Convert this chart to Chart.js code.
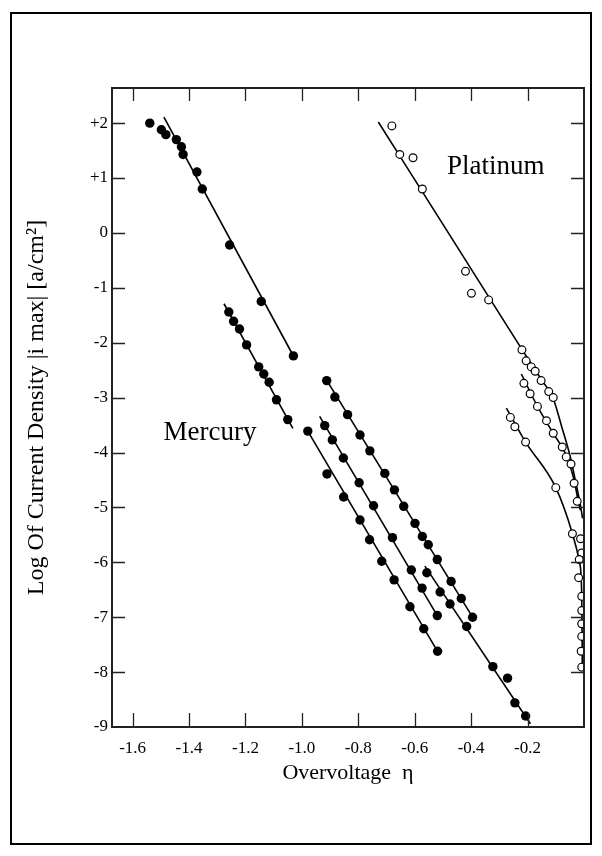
<!DOCTYPE html>
<html>
<head>
<meta charset="utf-8">
<script src="https://cdn.jsdelivr.net/npm/chart.js@4.4.1/dist/chart.umd.min.js"></script>
<style>
    html, body { margin: 0; padding: 0; background: #fff; }
    canvas { display: block; }
</style>
</head>
<body>
<canvas id="tafelChart" width="602" height="856"></canvas>
<script>
// Mercury runs: measured points (filled markers)
const hgRun1X = [-1.539, -1.498, -1.482, -1.445, -1.427, -1.421, -1.372, -1.353, -1.256, -1.144, -1.030];
const hgRun1Y = [2.00, 1.88, 1.79, 1.70, 1.57, 1.43, 1.11, 0.80, -0.22, -1.25, -2.24];
const hgRun2X = [-1.259, -1.242, -1.221, -1.196, -1.153, -1.135, -1.116, -1.090, -1.050];
const hgRun2Y = [-1.44, -1.61, -1.75, -2.04, -2.44, -2.57, -2.72, -3.04, -3.40];
const hgRun3X = [-0.979, -0.911, -0.852, -0.794, -0.760, -0.717, -0.673, -0.617, -0.568, -0.519];
const hgRun3Y = [-3.61, -4.39, -4.81, -5.23, -5.59, -5.98, -6.32, -6.81, -7.21, -7.62];
const hgRun4X = [-0.919, -0.892, -0.853, -0.797, -0.746, -0.679, -0.612, -0.574, -0.520];
const hgRun4Y = [-3.51, -3.77, -4.10, -4.55, -4.97, -5.55, -6.14, -6.47, -6.97];
const hgRun5X = [-0.912, -0.883, -0.838, -0.794, -0.759, -0.706, -0.672, -0.639, -0.599, -0.573, -0.552, -0.520, -0.471, -0.435, -0.395];
const hgRun5Y = [-2.69, -2.99, -3.31, -3.68, -3.97, -4.38, -4.68, -4.98, -5.29, -5.53, -5.68, -5.95, -6.35, -6.66, -7.00];
const hgRun6X = [-0.557, -0.510, -0.475, -0.416, -0.323, -0.271, -0.245, -0.207];
const hgRun6Y = [-6.19, -6.54, -6.76, -7.17, -7.90, -8.11, -8.56, -8.80];

// Mercury fitted Tafel lines (end points)
const hgFit1X = [-1.489, -1.028];
const hgFit1Y = [2.11, -2.26];
const hgFit2X = [-1.276, -1.032];
const hgFit2Y = [-1.29, -3.56];
const hgFit3X = [-0.979, -0.515];
const hgFit3Y = [-3.61, -7.66];
const hgFit4X = [-0.937, -0.517];
const hgFit4Y = [-3.34, -7.00];
const hgFit5X = [-0.915, -0.390];
const hgFit5Y = [-2.66, -7.04];
const hgFit6X = [-0.564, -0.190];
const hgFit6Y = [-6.07, -8.94];

// Platinum runs: measured points (open markers)
const ptRun1X = [-0.681, -0.653, -0.606, -0.573, -0.420, -0.399, -0.338, -0.220, -0.205, -0.187, -0.173, -0.152, -0.125, -0.109];
const ptRun1Y = [1.95, 1.43, 1.37, 0.80, -0.70, -1.10, -1.22, -2.13, -2.33, -2.44, -2.52, -2.69, -2.89, -3.00];
const ptRun2X = [-0.213, -0.191, -0.165, -0.133, -0.109, -0.077, -0.063, -0.046, -0.035, -0.024];
const ptRun2Y = [-2.74, -2.93, -3.16, -3.42, -3.65, -3.90, -4.08, -4.21, -4.56, -4.89];
const ptRun3X = [-0.261, -0.245, -0.207, -0.100, -0.041, -0.012, -0.008, -0.017, -0.019, -0.008, -0.008, -0.008, -0.008, -0.010, -0.008];
const ptRun3Y = [-3.36, -3.53, -3.81, -4.64, -5.48, -5.57, -5.83, -5.95, -6.28, -6.62, -6.88, -7.12, -7.35, -7.62, -7.91];

// Platinum curves through the runs
const ptCurve1X = [-0.729, -0.450, -0.220, -0.150, -0.109, -0.079, -0.049, -0.031, -0.014, -0.005];
const ptCurve1Y = [2.02, -0.25, -2.12, -2.68, -3.02, -3.53, -4.07, -4.50, -4.92, -5.20];
const ptCurve2X = [-0.222, -0.165, -0.109, -0.063, -0.035, -0.020, -0.013];
const ptCurve2Y = [-2.57, -3.16, -3.65, -4.05, -4.50, -4.90, -5.05];
const ptCurve3X = [-0.275, -0.207, -0.100, -0.041, -0.016, -0.008, -0.006];
const ptCurve3Y = [-3.19, -3.81, -4.64, -5.48, -6.00, -6.60, -7.95];

const xTicksStep = 0.2;
const yTicksStep = 1;

const runLabels = [
    { text: 'Platinum', x: -0.313, y: 1.08 },
    { text: 'Mercury', x: -1.326, y: -3.77 }
];

const SERIF = '"Liberation Serif", "Times New Roman", serif';

function toPoints(xs, ys) {
    return xs.map((x, i) => ({ x: x, y: ys[i] }));
}

function markerSet(xs, ys, hollow) {
    return {
        data: toPoints(xs, ys),
        showLine: false,
        pointRadius: hollow ? 3.9 : 4.7,
        pointBorderWidth: hollow ? 1.2 : 0,
        pointBackgroundColor: hollow ? '#fff' : '#000',
        pointBorderColor: '#000',
        order: 0
    };
}

function lineSet(xs, ys, curved) {
    return {
        data: toPoints(xs, ys),
        showLine: true,
        pointRadius: 0,
        borderColor: '#000',
        borderWidth: 1.6,
        cubicInterpolationMode: curved ? 'monotone' : 'default',
        tension: 0,
        order: 1
    };
}

const datasets = [
    markerSet(hgRun1X, hgRun1Y, false),
    markerSet(hgRun2X, hgRun2Y, false),
    markerSet(hgRun3X, hgRun3Y, false),
    markerSet(hgRun4X, hgRun4Y, false),
    markerSet(hgRun5X, hgRun5Y, false),
    markerSet(hgRun6X, hgRun6Y, false),
    markerSet(ptRun1X, ptRun1Y, true),
    markerSet(ptRun2X, ptRun2Y, true),
    markerSet(ptRun3X, ptRun3Y, true),
    lineSet(hgFit1X, hgFit1Y, false),
    lineSet(hgFit2X, hgFit2Y, false),
    lineSet(hgFit3X, hgFit3Y, false),
    lineSet(hgFit4X, hgFit4Y, false),
    lineSet(hgFit5X, hgFit5Y, false),
    lineSet(hgFit6X, hgFit6Y, false),
    lineSet(ptCurve1X, ptCurve1Y, true),
    lineSet(ptCurve2X, ptCurve2Y, true),
    lineSet(ptCurve3X, ptCurve3Y, true)
];

// page frame, plot box, inward ticks and run labels
const framePlugin = {
    id: 'frame',
    beforeDraw(chart) {
        const ctx = chart.ctx;
        ctx.save();
        ctx.fillStyle = '#fff';
        ctx.fillRect(0, 0, chart.width, chart.height);
        ctx.strokeStyle = '#000';
        ctx.lineWidth = 2;
        ctx.strokeRect(11, 13, 580, 831);
        ctx.restore();
    },
    afterDraw(chart) {
        const { ctx, chartArea: area } = chart;
        const xs = chart.scales.x;
        const ys = chart.scales.y;
        ctx.save();
        ctx.strokeStyle = '#222';
        ctx.lineWidth = 1.3;
        ctx.beginPath();
        xs.ticks.forEach(t => {
            const px = Math.round(xs.getPixelForValue(t.value)) + 0.5;
            if (px <= area.left + 2 || px >= area.right - 2) return;
            ctx.moveTo(px, area.bottom);
            ctx.lineTo(px, area.bottom - 14);
            ctx.moveTo(px, area.top);
            ctx.lineTo(px, area.top + 13);
        });
        ys.ticks.forEach(t => {
            const py = Math.round(ys.getPixelForValue(t.value)) + 0.5;
            if (py >= area.bottom - 2 || py <= area.top + 2) return;
            ctx.moveTo(area.left, py);
            ctx.lineTo(area.left + 13, py);
            ctx.moveTo(area.right, py);
            ctx.lineTo(area.right - 13, py);
        });
        ctx.stroke();

        ctx.lineWidth = 2;
        ctx.strokeRect(area.left, area.top, area.right - area.left, area.bottom - area.top);

        ctx.fillStyle = '#000';
        ctx.font = '27px ' + SERIF;
        ctx.textAlign = 'center';
        ctx.textBaseline = 'alphabetic';
        runLabels.forEach(l => {
            ctx.fillText(l.text, xs.getPixelForValue(l.x), ys.getPixelForValue(l.y));
        });
        ctx.restore();
    }
};

new Chart(document.getElementById('tafelChart'), {
    type: 'scatter',
    data: { datasets: datasets },
    plugins: [framePlugin],
    options: {
        responsive: false,
        animation: false,
        layout: { padding: { top: 88, right: 18, left: 0, bottom: 0 } },
        plugins: {
            legend: { display: false },
            tooltip: { enabled: false }
        },
        scales: {
            x: {
                type: 'linear',
                min: -1.673,
                max: 0,
                afterFit(scale) { scale.height = 129; },
                grid: { display: false, drawTicks: false },
                border: { display: false },
                ticks: {
                    stepSize: xTicksStep,
                    includeBounds: false,
                    padding: 11,
                    color: '#000',
                    font: { family: SERIF, size: 17 },
                    callback: v => (v > -0.1 ? '' : v.toFixed(1))
                },
                title: {
                    display: true,
                    text: 'Overvoltage  η',
                    color: '#000',
                    font: { family: SERIF, size: 22 },
                    padding: { top: 0, bottom: 70 }
                }
            },
            y: {
                type: 'linear',
                min: -9,
                max: 2.64,
                afterFit(scale) { scale.width = 112; },
                grid: { display: false, drawTicks: false },
                border: { display: false },
                ticks: {
                    stepSize: yTicksStep,
                    includeBounds: false,
                    padding: 4,
                    color: '#000',
                    font: { family: SERIF, size: 17 },
                    callback: v => (v > 0 ? '+' + v : String(v))
                },
                title: {
                    display: true,
                    text: 'Log Of Current Density |i max| [a/cm²]',
                    color: '#000',
                    font: { family: SERIF, size: 24 },
                    padding: { top: 22, bottom: 0 }
                }
            }
        }
    }
});
</script>
</body>
</html>
